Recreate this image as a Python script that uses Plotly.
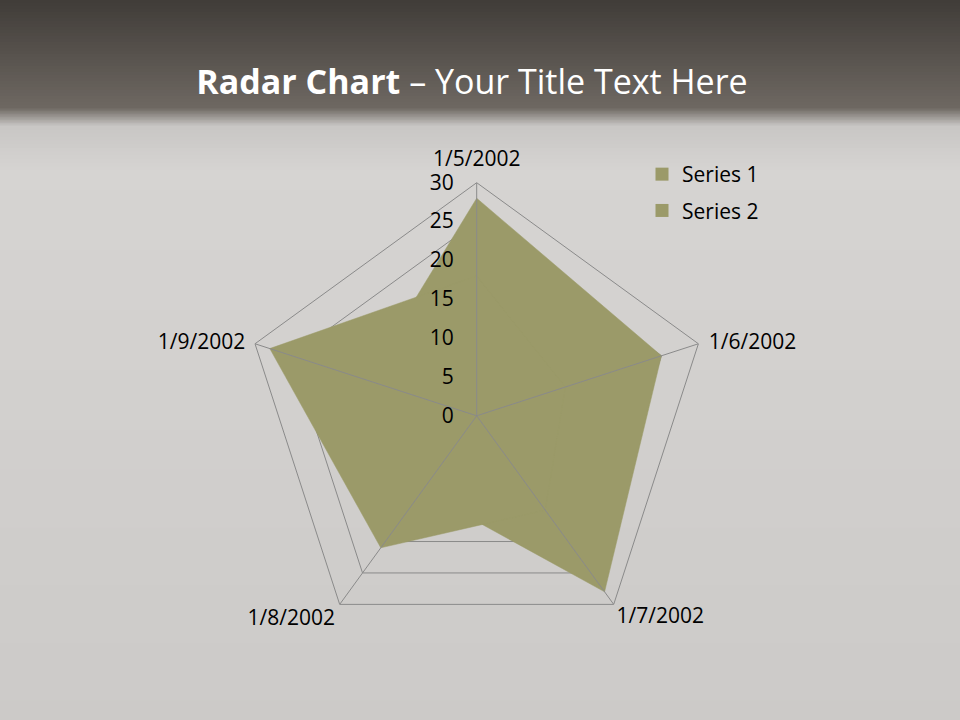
import plotly.graph_objects as go

categories = ["1/5/2002", "1/6/2002", "1/7/2002", "1/8/2002", "1/9/2002"]
series_names = ["Series 1", "Series 2"]
series1 = [28, 25, 28, 12, 15]
series2 = [18, 12, 15, 21, 28]
radial_ticks = [0, 5, 10, 15, 20, 25, 30]

FILL = "#9b9a69"
GRID = "#8a8a8a"
FONT = "Open Sans"

# category label placement (style only)
label_positions = ["top center", "middle right", "bottom right", "bottom left", "middle left"]
label_pads = [16, 15, 3, 6, 14]

W, H = 960, 720


def lerp(c1, c2, t):
    return tuple(round(a + (b - a) * t) for a, b in zip(c1, c2))


shapes = []


def band(y0, y1, c0, c1, n):
    for i in range(n):
        ya = y0 + (y1 - y0) * i / n
        yb = y0 + (y1 - y0) * (i + 1) / n + 0.6
        c = lerp(c0, c1, (i + 0.5) / n)
        shapes.append(dict(type="rect", xref="paper", yref="paper", layer="below",
                           x0=0, x1=1, y0=1 - yb / H, y1=1 - ya / H,
                           line=dict(width=0), fillcolor="rgb(%d,%d,%d)" % c))


band(0, 108, (64, 60, 56), (110, 104, 98), 36)
band(108, 126, (110, 104, 98), (200, 198, 196), 12)
band(126, 170, (200, 198, 196), (214, 212, 210), 12)
band(170, 450, (214, 212, 210), (209, 207, 205), 14)
band(450, 720, (209, 207, 205), (204, 202, 200), 14)

fig = go.Figure()

for name, vals in zip(series_names, [series1, series2]):
    fig.add_trace(go.Scatterpolar(
        r=vals + vals[:1], theta=categories + categories[:1],
        mode="lines", fill="toself", fillcolor=FILL,
        line=dict(color=FILL, width=0.5), name=name, showlegend=False,
        hoverinfo="skip"))

# spokes drawn above fills
rmax = radial_ticks[-1]
sr, st = [], []
for c in categories:
    sr += [0, rmax, None]
    st += [c, c, None]
fig.add_trace(go.Scatterpolar(r=sr, theta=st, mode="lines",
                              line=dict(color=GRID, width=1), showlegend=False,
                              hoverinfo="skip"))

# category labels at the outer edge
fig.add_trace(go.Scatterpolar(
    r=[rmax] * len(categories), theta=categories, text=categories,
    mode="markers+text", textposition=label_positions,
    marker=dict(size=label_pads, color="rgba(0,0,0,0)",
                line=dict(width=0, color="rgba(0,0,0,0)")),
    textfont=dict(family=FONT, size=21, color="black"),
    showlegend=False, hoverinfo="skip", cliponaxis=False))

# legend entries
for i, name in enumerate(series_names):
    fig.add_trace(go.Scatterpolar(r=[None], theta=[None], mode="markers", name=name,
                                  legendgroup=name,
                                  marker=dict(symbol="square", size=13, color=FILL,
                                              line=dict(width=0))))

cx, cy, R = 476.7, 415.8, 233.1
fig.update_layout(
    width=W, height=H,
    margin=dict(l=0, r=0, t=0, b=0),
    paper_bgcolor="rgb(210,208,206)",
    plot_bgcolor="rgba(0,0,0,0)",
    shapes=shapes,
    font=dict(family=FONT, color="black", size=21),
    title=dict(text="<b>Radar Chart</b> – Your Title Text Here",
               x=472 / W, xanchor="center", y=1 - 82 / H, yanchor="middle",
               xref="paper", yref="paper",
               font=dict(family=FONT, size=34, color="white")),
    polar=dict(
        domain=dict(x=[(cx - R) / W, (cx + R) / W], y=[1 - (cy + R) / H, 1 - (cy - R) / H]),
        bgcolor="rgba(0,0,0,0)",
        gridshape="linear",
        radialaxis=dict(range=[0, rmax], tickvals=radial_ticks, angle=90,
                        side="counterclockwise", showline=False,
                        gridcolor=GRID, gridwidth=1, ticks="outside", ticklen=15,
                        tickcolor="rgba(0,0,0,0)", tickangle=90,
                        tickfont=dict(family=FONT, size=21, color="black")),
        angularaxis=dict(categoryarray=categories, categoryorder="array",
                         rotation=90, direction="clockwise", showgrid=False,
                         showline=True, linecolor=GRID, linewidth=1,
                         ticks="", showticklabels=False),
    ),
    legend=dict(x=642 / W, y=1 - 154 / H, xanchor="left", yanchor="top",
                bgcolor="rgba(0,0,0,0)", tracegroupgap=6,
                font=dict(family=FONT, size=21, color="black"),
                itemwidth=30),
)

fig.write_html("out.html", post_script="document.body.style.margin='0';",
               config={"displayModeBar": False})
